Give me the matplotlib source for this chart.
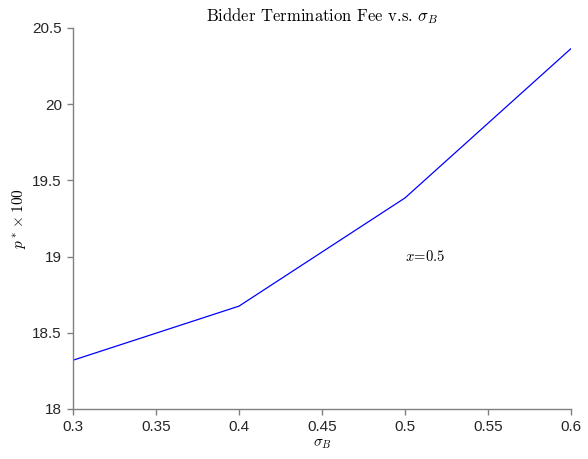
import matplotlib
matplotlib.use("Agg")
import matplotlib.pyplot as plt

sigma_B = [0.3, 0.4, 0.5, 0.6]
p_star = [18.32, 18.675, 19.385, 20.365]
xticks = [0.3, 0.35, 0.4, 0.45, 0.5, 0.55, 0.6]
xticklabels = ["0.3", "0.35", "0.4", "0.45", "0.5", "0.55", "0.6"]
yticks = [18, 18.5, 19, 19.5, 20, 20.5]
yticklabels = ["18", "18.5", "19", "19.5", "20", "20.5"]

plt.rcParams['mathtext.fontset'] = 'cm'
plt.rcParams['font.family'] = ['Liberation Sans', 'DejaVu Sans']

fig = plt.figure(figsize=(5.88, 4.59), dpi=100)
ax = fig.add_axes([73/588, 50/459, 498/588, 381/459])
ax.plot(sigma_B, p_star, color='#0000ff', linewidth=0.9)
ax.set_xlim(0.3, 0.6)
ax.set_ylim(18, 20.5)
ax.set_xticks(xticks)
ax.set_xticklabels(xticklabels)
ax.set_yticks(yticks)
ax.set_yticklabels(yticklabels)
for s in ['top', 'right']:
    ax.spines[s].set_visible(False)
for s in ['left', 'bottom']:
    ax.spines[s].set_color('#808080')
    ax.spines[s].set_linewidth(1.0)
ax.tick_params(direction='out', length=4, width=1.0, color='#808080',
               labelcolor='#262626', labelsize=11, pad=4)
ax.set_title(r'Bidder Termination Fee v.s. $\sigma_B$', fontsize=12, pad=5,
             family=['cmr10', 'DejaVu Serif'])
ax.set_xlabel(r'$\sigma_B$', fontsize=11, labelpad=2)
ax.set_ylabel(r'$p^* \times 100$', fontsize=11, labelpad=3)
ax.text(0.5, 19.0, r'$x\!=\!0.5$', fontsize=10.5, ha='left', va='center')
fig.savefig('out.png', dpi=100)
